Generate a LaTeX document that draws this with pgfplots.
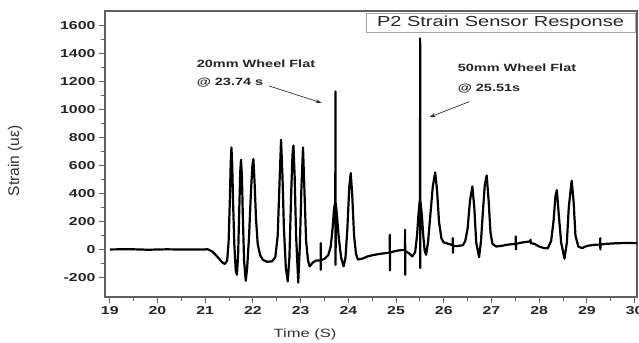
\documentclass[border=0pt]{standalone}
\usepackage{fontspec}
\setmainfont{Liberation Sans}[FakeStretch=1.38]
\newfontfamily\plainfont{Liberation Sans}
\usepackage{pgfplots}
\pgfplotsset{compat=1.18}
\usetikzlibrary{arrows.meta}
\pgfplotstableread{
x y
19.00 0
19.40 2
19.80 -2
20.20 1
20.60 -1
21.00 0
21.05 2
21.15 -15
21.25 -50
21.35 -90
21.41 -104
21.46 -80
21.49 50
21.515 330
21.535 620
21.55 729
21.565 620
21.585 330
21.61 40
21.64 -150
21.665 -181
21.69 -40
21.715 300
21.735 560
21.75 641
21.77 520
21.79 220
21.815 -80
21.85 -224
21.88 -130
21.92 100
21.96 420
21.99 600
22.01 646
22.035 480
22.065 220
22.10 40
22.15 -40
22.21 -75
22.30 -88
22.40 -85
22.47 -55
22.52 100
22.555 450
22.59 784
22.62 520
22.65 150
22.69 -130
22.73 -229
22.765 -60
22.80 380
22.83 680
22.85 743
22.875 520
22.905 100
22.95 -236
22.985 40
23.015 420
23.05 729
23.08 420
23.115 60
23.155 -80
23.19 -121
23.25 -95
23.32 -80
23.419 -78
23.42 46
23.421 -145
23.423 -75
23.50 -68
23.58 -40
23.63 20
23.67 150
23.70 290
23.727 345
23.73 1129
23.733 -110
23.737 330
23.76 250
23.80 80
23.85 -60
23.90 -121
23.94 -60
23.98 150
24.02 450
24.05 546
24.08 400
24.12 100
24.16 -30
24.20 -72
24.30 -65
24.40 -50
24.50 -42
24.60 -35
24.70 -30
24.80 -25
24.869 -24
24.87 105
24.872 -150
24.875 -22
25.00 -10
25.10 -5
25.189 -5
25.19 141
25.192 -181
25.195 -10
25.28 -30
25.34 -50
25.40 -20
25.44 100
25.47 250
25.495 345
25.503 355
25.505 1510
25.508 -133
25.512 345
25.54 250
25.57 100
25.60 -10
25.63 -38
25.67 50
25.72 250
25.77 450
25.82 551
25.86 420
25.90 200
25.95 80
26.00 50
26.10 40
26.189 30
26.19 81
26.192 -24
26.195 25
26.30 25
26.40 30
26.45 60
26.50 150
26.55 350
26.60 450
26.64 300
26.68 50
26.74 -55
26.78 60
26.82 270
26.86 460
26.90 529
26.94 350
26.98 120
27.02 40
27.10 21
27.20 25
27.35 35
27.509 40
27.51 93
27.512 0
27.515 40
27.65 50
27.819 58
27.82 70
27.822 45
27.90 40
28.00 21
28.10 10
28.18 8
28.25 60
28.30 200
28.34 380
28.37 424
28.41 250
28.46 50
28.53 -66
28.58 50
28.62 300
28.68 491
28.72 350
28.76 100
28.82 20
28.90 10
29.00 25
29.15 33
29.279 35
29.28 81
29.282 0
29.285 35
29.40 40
29.60 44
29.80 46
30.05 45
}\strain
\begin{document}
\begin{tikzpicture}
\useasboundingbox (-105bp,-46bp) rectangle (534bp,297bp);
\begin{axis}[
  scale only axis, width=532bp, height=286bp,
  xmin=18.9, xmax=30.05, ymin=-340, ymax=1705,
  xtick={19,...,30}, ytick={-200,0,...,1600},
  minor x tick num=1, minor y tick num=1,
  tick align=outside, xtick pos=bottom, ytick pos=left,
  major tick length=6bp, minor tick length=3.5bp,
  axis line style={draw=gray!75!black, line width=1.2bp},
  every tick/.style={gray!75!black, line width=1bp},
  /pgf/number format/assume math mode=true,
  /pgf/number format/1000 sep={},
  tick label style={font=\fontsize{11.5bp}{13bp}\selectfont\bfseries, text=black!85},
  xlabel={Time (S)}, ylabel={\plainfont Strain (uε)},
  every axis x label/.style={at={(axis description cs:0.376,0)}, anchor=center, yshift=-37bp, font=\fontsize{12bp}{14bp}\selectfont, text=black!80},
  every axis y label/.style={at={(axis description cs:-0.169,0.476)}, rotate=90, anchor=center, font=\fontsize{15.5bp}{17bp}\selectfont, text=black!80},
  clip=false,
]
\addplot[black, line width=2.2bp, line join=round] table[x=x,y=y] {\strain};
\node[draw=gray!70, line width=0.8bp, anchor=north east, minimum width=269bp, minimum height=19bp, inner sep=0pt, font=\fontsize{14.5bp}{16bp}\selectfont, text=black!85] at ([yshift=-2bp]rel axis cs:0.997,1) {P2 Strain Sensor Response};
\node[anchor=west, font=\fontsize{10.5bp}{12bp}\selectfont\bfseries, text=black!85] at (axis cs:20.75,1326) {20mm Wheel Flat};
\node[anchor=west, font=\fontsize{10.5bp}{12bp}\selectfont\bfseries, text=black!85] at (axis cs:20.75,1191) {@ 23.74 s};
\node[anchor=west, font=\fontsize{10.5bp}{12bp}\selectfont\bfseries, text=black!85] at (axis cs:26.22,1296) {50mm Wheel Flat};
\node[anchor=west, font=\fontsize{10.5bp}{12bp}\selectfont\bfseries, text=black!85] at (axis cs:26.22,1153) {@ 25.51s};
\draw[black!80, line width=0.7bp, -{Stealth[length=6bp,width=4bp]}] (axis cs:22.34,1169) -- (axis cs:23.44,1048);
\draw[black!80, line width=0.7bp, -{Stealth[length=6bp,width=4bp]}] (axis cs:26.54,1057) -- (axis cs:25.70,946);
\end{axis}
\end{tikzpicture}
\end{document}
